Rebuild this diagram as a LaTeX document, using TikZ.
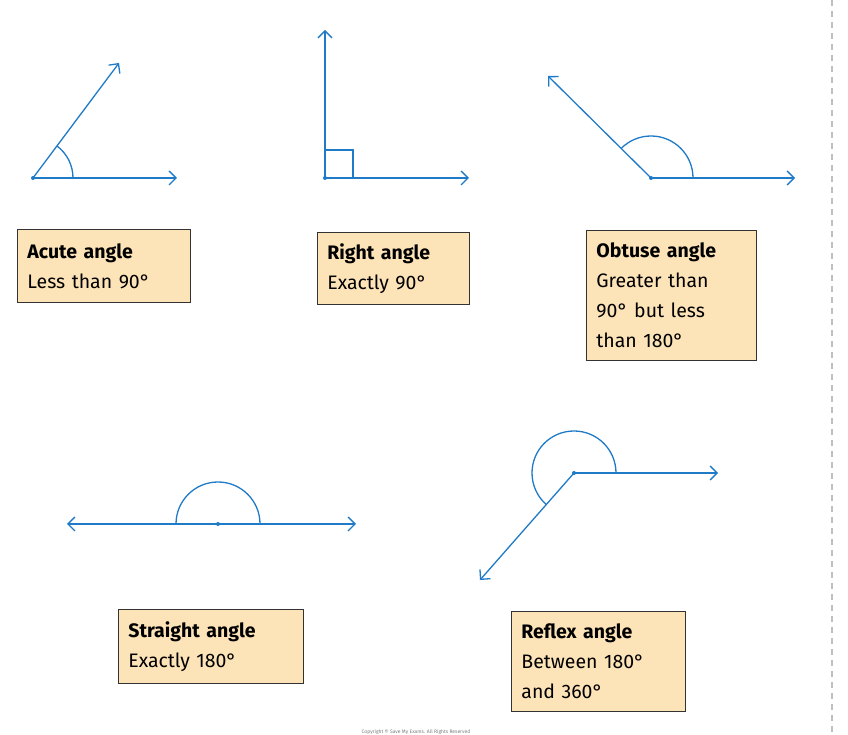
\documentclass[tikz,border=0pt]{standalone}
\usepackage{fontspec}
\setmainfont{Fira Sans}
\usetikzlibrary{arrows.meta}
\definecolor{ln}{HTML}{1F7BC8}
\definecolor{bx}{HTML}{FDE3B8}
\begin{document}
\begin{tikzpicture}[x=1pt,y=1pt,
  ray/.style={ln,line width=1.3pt,-{Straight Barb[length=7pt,width=14pt,line width=1.3pt]}},
  ang/.style={ln,line width=1.3pt},
  dot/.style={circle,fill=ln,inner sep=0pt,minimum size=4pt},
  box/.style={draw=black!80,fill=bx,line width=0.8pt,anchor=north west,align=left,font=\fontsize{19.5}{30}\selectfont,inner xsep=10pt,inner ysep=5pt}]
\useasboundingbox[fill=white] (0,0) rectangle (848,735);
\draw[black!25,line width=1.5pt,dash pattern=on 6pt off 5pt] (832,735) -- (832,0);
% acute
\node[dot] (a) at (33,557) {};
\coordinate (a1) at (177,557); \coordinate (a2) at (119,672);
\draw[ray] (a.center) -- (a1); \draw[ray] (a.center) -- (a2);
\draw[ang] (73,557) arc (0:53.2:40);
% right
\node[dot] (r) at (325,557) {};
\coordinate (r1) at (469,557); \coordinate (r2) at (325,705);
\draw[ray] (r.center) -- (r1); \draw[ray] (r.center) -- (r2);
\draw[ang] (325,585) -- (353,585) -- (353,557);
% obtuse
\node[dot] (o) at (651,557) {};
\coordinate (o1) at (795,557); \coordinate (o2) at (548,659);
\draw[ray] (o.center) -- (o1); \draw[ray] (o.center) -- (o2);
\draw[ang] (693,557) arc (0:135.3:42);
% straight
\node[dot] (s) at (218,211) {};
\coordinate (s1) at (356,211); \coordinate (s2) at (67,211);
\draw[ray] (s.center) -- (s1); \draw[ray] (s.center) -- (s2);
\draw[ang] (260,211) arc (0:180:42);
% reflex
\node[dot] (x) at (574,262) {};
\coordinate (x1) at (718,262); \coordinate (x2) at (480,155);
\draw[ray] (x.center) -- (x1); \draw[ray] (x.center) -- (x2);
\draw[ang] (616,262) arc (0:228.7:42);
% boxes
\node[box,text width=153pt,minimum height=73pt] (ba) at (17,506) {\textbf{Acute angle}\\Less than 90°};
\node[box,text width=132pt,minimum height=72pt] (br) at (317,503) {\textbf{Right angle}\\Exactly 90°};
\node[box,text width=150pt,minimum height=130pt] (bo) at (586,505) {\textbf{Obtuse angle}\\Greater than\\90° but less\\than 180°};
\node[box,text width=165pt,minimum height=74pt] (bs) at (118,126) {\textbf{Straight angle}\\Exactly 180°};
\node[box,text width=154pt,minimum height=100pt] (bf) at (511,124) {\textbf{Reflex angle}\\Between 180°\\and 360°};
\node[font=\fontsize{5}{6}\selectfont,text=black!50] (cp) at (416,3) {Copyright © Save My Exams. All Rights Reserved};
\end{tikzpicture}
\end{document}
